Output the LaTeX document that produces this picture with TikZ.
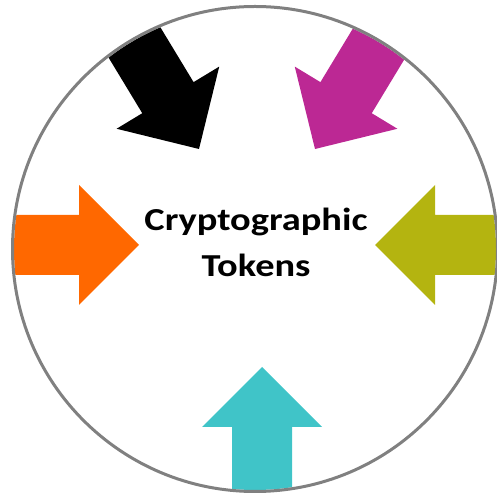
\documentclass[tikz,border=0pt]{standalone}
\usepackage{fontspec}
\newfontfamily\titlefont[FakeStretch=1.2]{Carlito}
\definecolor{ringgray}{RGB}{128,128,128}
\definecolor{arrblack}{RGB}{0,0,0}
\definecolor{arrmagenta}{RGB}{188,40,148}
\definecolor{arrorange}{RGB}{255,104,0}
\definecolor{arrolive}{RGB}{180,180,16}
\definecolor{arrcyan}{RGB}{64,196,200}
\tikzset{
  inarrow/.pic={
    \fill (0,0) -- (-60,60) -- (-60,30) -- (-420,30) -- (-420,-30)
      -- (-60,-30) -- (-60,-60) -- cycle;
  },
  ring/.style={draw=ringgray, line width=3pt},
  title/.style={font=\titlefont\bfseries\fontsize{32}{46}\selectfont,
    align=center, text=black}
}
\begin{document}
\begin{tikzpicture}[x=1pt,y=1pt]
  \useasboundingbox (0,0) rectangle (496,498);
  \coordinate (c) at (255,249);
  % arrows, cut off at the ring
  \begin{scope}
    \clip (c) circle (241);
    \pic[fill=arrblack, rotate=-58.8] at (199,349) {inarrow};
    \pic[fill=arrmagenta, rotate=-121.2] at (315,349) {inarrow};
    \pic[fill=arrorange] at (139,253) {inarrow};
    \pic[fill=arrolive, rotate=180] at (375,253) {inarrow};
    \pic[fill=arrcyan, rotate=90] at (262,131) {inarrow};
  \end{scope}
  \draw[ring] (c) circle (242.5);
  \node[title] (label) at (256,256) {Cryptographic\\Tokens};
\end{tikzpicture}
\end{document}
